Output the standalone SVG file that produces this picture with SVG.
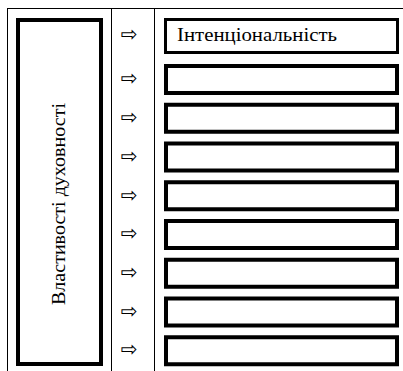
<svg xmlns="http://www.w3.org/2000/svg" width="403" height="371" viewBox="0 0 403 371">
<style>
.grid{stroke:#000;stroke-width:1;fill:none}
.box{fill:#fff;stroke:#000;stroke-width:4}
.arr{font-family:'DejaVu Sans',sans-serif;font-size:20px;text-anchor:middle;dominant-baseline:central}
.lbl{font-family:'Liberation Serif','DejaVu Serif',serif;fill:#000}
</style>
<rect width="403" height="371" fill="#fff"/>
<g id="table" class="grid">
<line x1="7.5" y1="8.5" x2="403" y2="8.5"/>
<line x1="7.5" y1="8" x2="7.5" y2="371"/>
<line x1="111.5" y1="8" x2="111.5" y2="371"/>
<line x1="154.5" y1="8" x2="154.5" y2="371"/>
</g>
<g id="main">
<rect class="box" x="18" y="20" width="83" height="344"/>
<text class="lbl" font-size="18.5" transform="translate(65,204) rotate(-90)" text-anchor="middle" textLength="202" lengthAdjust="spacingAndGlyphs">Властивості духовності</text>
</g>
<g id="connectors">
<text class="arr" x="129" y="34">⇨</text>
<text class="arr" x="129" y="78">⇨</text>
<text class="arr" x="129" y="117">⇨</text>
<text class="arr" x="129" y="156">⇨</text>
<text class="arr" x="129" y="195">⇨</text>
<text class="arr" x="129" y="233">⇨</text>
<text class="arr" x="129" y="272">⇨</text>
<text class="arr" x="129" y="311">⇨</text>
<text class="arr" x="129" y="349">⇨</text>
</g>
<g id="n1">
<rect x="165.5" y="19.5" width="232" height="33" fill="#fff" stroke="#000" stroke-width="3"/>
<text class="lbl" font-size="18.5" x="177" y="41" textLength="160" lengthAdjust="spacingAndGlyphs">Інтенціональність</text>
</g>
<g id="n2"><rect class="box" x="166" y="66" width="231" height="27"/></g>
<g id="n3"><rect class="box" x="166" y="104.75" width="231" height="27"/></g>
<g id="n4"><rect class="box" x="166" y="143.5" width="231" height="27"/></g>
<g id="n5"><rect class="box" x="166" y="182.25" width="231" height="27"/></g>
<g id="n6"><rect class="box" x="166" y="221" width="231" height="27"/></g>
<g id="n7"><rect class="box" x="166" y="259.75" width="231" height="27"/></g>
<g id="n8"><rect class="box" x="166" y="298.5" width="231" height="27"/></g>
<g id="n9"><rect class="box" x="166" y="337.25" width="231" height="27"/></g>
</svg>
